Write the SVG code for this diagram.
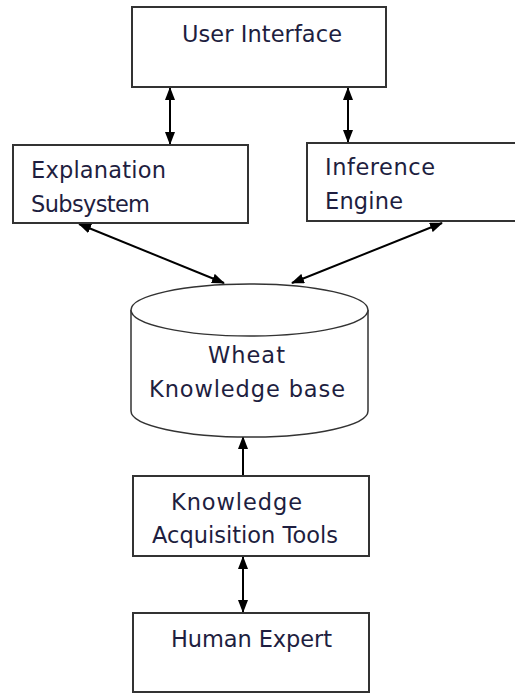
<svg xmlns="http://www.w3.org/2000/svg" width="515" height="693" viewBox="0 0 515 693">
<defs>
<marker id="ah" viewBox="0 0 13 10" refX="12" refY="5" markerWidth="13" markerHeight="10" markerUnits="userSpaceOnUse" orient="auto-start-reverse">
<path d="M0,0 L13,5 L0,10 Z" fill="#000"/>
</marker>
<style>
.box{fill:#fff;stroke:#333;stroke-width:2}
.cyl{fill:#fff;stroke:#333;stroke-width:1.5}
.t{font-family:"DejaVu Sans",sans-serif;font-size:22.5px;fill:#1e1e40}
.c{stroke:#000;stroke-width:2;fill:none}
</style>
</defs>
<rect width="515" height="693" fill="#fff"/>
<g id="connectors">
<line class="c" x1="170" y1="88" x2="170" y2="144" marker-start="url(#ah)" marker-end="url(#ah)"/>
<line class="c" x1="348" y1="88" x2="348" y2="142" marker-start="url(#ah)" marker-end="url(#ah)"/>
<line class="c" x1="79" y1="224" x2="224" y2="283" marker-start="url(#ah)" marker-end="url(#ah)"/>
<line class="c" x1="442" y1="223" x2="292" y2="283" marker-start="url(#ah)" marker-end="url(#ah)"/>
<line class="c" x1="243" y1="476" x2="243" y2="437" marker-end="url(#ah)"/>
<line class="c" x1="243" y1="557" x2="243" y2="612" marker-start="url(#ah)" marker-end="url(#ah)"/>
</g>
<g id="user-interface">
<rect class="box" x="132" y="7" width="254" height="80"/>
<text class="t" x="182" y="42" textLength="160">User Interface</text>
</g>
<g id="explanation-subsystem">
<rect class="box" x="13" y="145" width="235" height="78"/>
<text class="t" x="31" y="178" textLength="135">Explanation</text>
<text class="t" x="31" y="212" textLength="119">Subsystem</text>
</g>
<g id="inference-engine">
<rect class="box" x="307" y="143" width="215" height="78"/>
<text class="t" x="325" y="175" textLength="110">Inference</text>
<text class="t" x="325" y="209" textLength="78">Engine</text>
</g>
<g id="knowledge-base">
<path class="cyl" d="M131,310 L131,411 A118,26 0 0 0 368,411 L368,310"/>
<ellipse class="cyl" cx="249.5" cy="310" rx="118.5" ry="26"/>
<text class="t" x="208" y="363" textLength="77">Wheat</text>
<text class="t" x="149" y="397" textLength="196">Knowledge base</text>
</g>
<g id="knowledge-acquisition-tools">
<rect class="box" x="133" y="476" width="236" height="80"/>
<text class="t" x="171" y="510" textLength="131">Knowledge</text>
<text class="t" x="152" y="543" textLength="186">Acquisition Tools</text>
</g>
<g id="human-expert">
<rect class="box" x="133" y="613" width="236" height="79"/>
<text class="t" x="171" y="647" textLength="161">Human Expert</text>
</g>
</svg>
